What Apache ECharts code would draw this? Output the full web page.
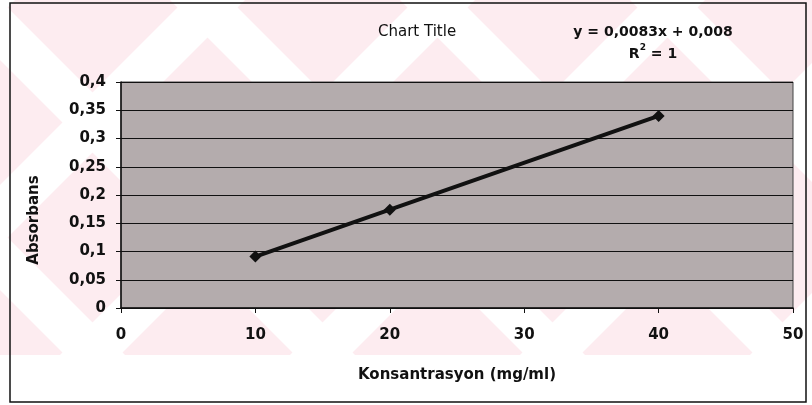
<!DOCTYPE html>
<html>

<head>
	<meta charset="UTF-8">
	<title></title>
	<style>
		body {
			margin: 0;
		}

		#chart {
			width: 812px;
			height: 405px;
		}
	</style>
	<script src="https://cdn.jsdelivr.net/npm/echarts@6/dist/echarts.min.js"></script>
</head>

<body>
	<div id="chart"></div>
	<script>
		// measured points (concentration, absorbance)
		var konsantrasyon = [10, 20, 40];
		var absorbans = [0.091, 0.174, 0.34];
		var xTicks = [0, 10, 20, 30, 40, 50];
		var yTicks = [0, 0.05, 0.1, 0.15, 0.2, 0.25, 0.3, 0.35, 0.4];
		var equationLines = ['y = 0,0083x + 0,008', 'R{sup|2} = 1'];

		var font = '"DejaVu Sans", Arial, sans-serif';

		// faint diagonal watermark behind the chart
		var bg = [{
			type: 'rect',
			z: -10,
			silent: true,
			shape: { x: 0, y: 0, width: 812, height: 355 },
			style: { fill: '#fdecf0' }
		}];
		var H = 355;
		for (var c = -400; c < 900; c += 230) {
			bg.push({
				type: 'polygon', z: -9, silent: true,
				shape: { points: [[c, H], [c + 60, H], [c + 60 + H, 0], [c + H, 0]] },
				style: { fill: '#ffffff' }
			});
			bg.push({
				type: 'polygon', z: -9, silent: true,
				shape: { points: [[c + 110, 0], [c + 170, 0], [c + 170 + H, H], [c + 110 + H, H]] },
				style: { fill: '#ffffff' }
			});
		}
		// outer frame
		bg.push({
			type: 'rect', z: 100, silent: true,
			shape: { x: 10, y: 3, width: 796, height: 399 },
			style: { fill: null, stroke: '#111', lineWidth: 1.5 }
		});

		var mychart = echarts.init(document.getElementById('chart'));
		mychart.setOption({
			animation: false,
			backgroundColor: '#ffffff',
			graphic: bg,
			title: [
				{
					text: 'Chart Title',
					left: 373,
					top: 20,
					textStyle: { fontFamily: font, fontSize: 15, fontWeight: 'normal', color: '#111' }
				},
				{
					text: equationLines.join('\n'),
					left: 648,
					top: 16,
					textAlign: 'center',
					textStyle: {
						fontFamily: font, fontSize: 14, fontWeight: 'bold', color: '#111',
						lineHeight: 22, align: 'center',
						rich: { sup: { fontSize: 9, fontWeight: 'bold', verticalAlign: 'top', lineHeight: 12, padding: [0, 0, 6, 0] } }
					}
				}
			],
			grid: {
				left: 121,
				right: 19,
				top: 82,
				bottom: 97,
				show: true,
				backgroundColor: '#b4acad',
				borderColor: '#444',
				borderWidth: 1
			},
			xAxis: {
				type: 'value',
				min: xTicks[0],
				max: xTicks[xTicks.length - 1],
				interval: 10,
				name: 'Konsantrasyon (mg/ml)',
				nameLocation: 'middle',
				nameGap: 60,
				nameTextStyle: { fontFamily: font, fontSize: 15, fontWeight: 'bold', color: '#111' },
				axisLine: { lineStyle: { color: '#111', width: 1.5 } },
				axisTick: { show: true, length: 5, lineStyle: { color: '#111' } },
				axisLabel: { margin: 20, fontFamily: font, fontSize: 15, fontWeight: 'bold', color: '#111' },
				splitLine: { show: false }
			},
			yAxis: {
				type: 'value',
				min: yTicks[0],
				max: yTicks[yTicks.length - 1],
				interval: 0.05,
				name: 'Absorbans',
				nameLocation: 'middle',
				nameGap: 79,
				nameTextStyle: {
					fontFamily: font, fontSize: 15, fontWeight: 'bold', color: '#111',
					padding: [0, 50, 0, 0]
				},
				axisLine: { show: true, lineStyle: { color: '#111', width: 1.5 } },
				axisTick: { show: true, length: 5, lineStyle: { color: '#111' } },
				axisLabel: {
					margin: 15,
					fontFamily: font, fontSize: 15, fontWeight: 'bold', color: '#111',
					formatter: function (v) {
						return String(+v.toFixed(2)).replace('.', ',');
					}
				},
				splitLine: { show: true, lineStyle: { color: '#111', width: 1 } }
			},
			series: {
				type: 'line',
				data: konsantrasyon.map(function (x, i) {
					return [x, absorbans[i]];
				}),
				symbol: 'diamond',
				symbolSize: 12,
				itemStyle: { color: '#111' },
				lineStyle: { color: '#111', width: 4 },
				z: 5
			}
		});
	</script>
</body>

</html>
